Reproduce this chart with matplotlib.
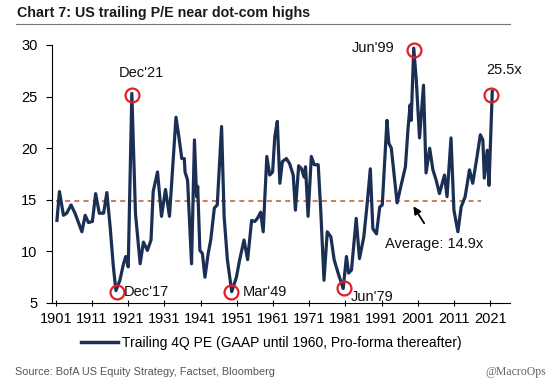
import matplotlib
matplotlib.use("Agg")
import matplotlib.pyplot as plt

FONT = "Liberation Sans"
fs = 10.5

# 数据
years = [1901.3, 1902.0, 1903.1, 1904.0, 1905.2, 1906.3, 1908.2, 1909.1, 1910.0, 1911.1,
         1912.0, 1913.0, 1914.2, 1915.1, 1916.0, 1916.9, 1917.6, 1918.7, 1919.7, 1920.3,
         1921.0, 1922.0, 1923.0, 1924.3, 1925.2, 1926.3, 1927.3, 1927.9, 1929.1, 1930.2,
         1931.3, 1932.4, 1934.2, 1935.0, 1935.8, 1936.5, 1936.7, 1937.4, 1938.5, 1939.3,
         1939.9, 1940.2, 1940.8, 1941.5, 1942.2, 1943.1, 1943.8, 1944.8, 1945.6, 1946.8,
         1947.5, 1948.4, 1949.6, 1950.9, 1951.8, 1953.0, 1954.0, 1955.1, 1956.0, 1956.7,
         1957.6, 1958.3, 1959.3, 1960.1, 1960.9, 1961.5, 1962.2, 1962.9, 1963.6, 1964.7,
         1965.6, 1966.6, 1967.2, 1968.1, 1968.9, 1969.6, 1970.0, 1970.7, 1971.6, 1972.4,
         1973.5, 1974.2, 1975.1, 1976.0, 1977.0, 1977.9, 1979.0, 1980.4, 1981.3, 1981.9,
         1982.7, 1984.0, 1984.9, 1986.1, 1987.0, 1987.9, 1988.6, 1989.6, 1990.5, 1991.2,
         1992.5, 1993.0, 1993.7, 1995.3, 1996.4, 1997.6, 1998.3, 1998.9, 1999.2, 1999.9,
         2000.6, 2001.5, 2002.6, 2003.3, 2004.3, 2005.2, 2006.1, 2007.0, 2008.4, 2009.1,
         2010.2, 2011.0, 2012.1, 2013.0, 2014.1, 2015.3, 2016.2, 2017.4, 2018.3, 2019.0,
         2019.4, 2020.2, 2020.7, 2021.6]
pe = [13.0, 15.8, 13.5, 13.7, 14.5, 13.7, 11.9, 13.5, 12.8, 12.9,
      15.6, 13.7, 13.7, 15.7, 12.4, 8.5, 6.2, 7.2, 8.8, 9.5,
      8.5, 25.3, 13.7, 8.8, 10.9, 10.1, 11.1, 15.8, 17.7, 13.4,
      16.0, 13.4, 23.0, 21.1, 19.0, 19.0, 17.7, 16.9, 8.8, 20.8,
      15.3, 16.3, 10.1, 9.8, 7.5, 9.8, 11.1, 14.2, 14.5, 22.1,
      13.4, 9.2, 6.1, 7.5, 9.2, 11.1, 9.2, 13.0, 12.9, 13.2,
      13.8, 11.9, 19.2, 17.4, 17.7, 21.1, 22.6, 16.6, 18.7, 19.0,
      18.5, 17.4, 14.0, 18.3, 18.0, 17.2, 18.2, 13.4, 19.2, 18.4,
      18.4, 14.0, 7.2, 11.9, 11.4, 9.2, 7.9, 6.4, 9.5, 7.9,
      8.2, 13.2, 9.3, 11.4, 14.5, 18.0, 12.2, 11.7, 14.3, 14.5,
      22.7, 20.5, 20.0, 14.7, 16.4, 18.2, 21.8, 24.2, 22.7, 29.7,
      26.6, 21.0, 26.1, 17.6, 20.0, 17.9, 16.9, 15.6, 17.4, 15.3,
      21.0, 14.0, 11.9, 14.3, 15.3, 17.9, 16.6, 19.2, 21.3, 20.8,
      17.1, 19.8, 16.4, 25.5]
average = 14.9
avg_span = [1901, 2018.5]
tick_years = list(range(1901, 2022, 10))

# 标注圈
circ_x = [1922.0, 1917.8, 1949.4, 1980.5, 1999.9, 2021.3]
circ_y = [25.2, 6.1, 6.1, 6.5, 29.5, 25.2]
labels = ["Dec'21", "Dec'17", "Mar'49", "Jun'79", "Jun'99", "25.5x"]

navy = "#1b2f55"

fig = plt.figure(figsize=(5.49, 3.84), dpi=100)
ax = fig.add_axes([51.5 / 549, 1 - 303 / 384, (510 - 51.5) / 549, (303 - 45) / 384])

ax.plot(avg_span, [average, average], ls=(0, (3, 2.5)), color="#c8643a", lw=1.2)
ax.plot(years, pe, color=navy, lw=2.3, label="Trailing 4Q PE (GAAP until 1960, Pro-forma thereafter)")
ax.plot(circ_x, circ_y, "o", ms=10, mfc="none", mec="#e0202a", mew=1.6, clip_on=False)

ax.set_xlim(1899.8, 2026.5)
ax.set_ylim(5, 30)
ax.set_xticks(tick_years)
ax.set_yticks([5, 10, 15, 20, 25, 30])
for s in ["top", "right"]:
    ax.spines[s].set_visible(False)
ax.spines["left"].set_linewidth(0.8)
ax.spines["bottom"].set_linewidth(0.8)
ax.tick_params(axis="y", direction="out", length=4, width=0.8, labelsize=fs, pad=6)
ax.tick_params(axis="x", direction="inout", length=5, width=0.8, labelsize=fs, pad=4)
for t in ax.get_xticklabels() + ax.get_yticklabels():
    t.set_family(FONT)

tk = dict(family=FONT, fontsize=fs, color="#111111", clip_on=False)
ax.text(1924.7, 27.3, labels[0], ha="center", va="center", **tk)
ax.text(1919.9, 6.1, labels[1], ha="left", va="center", **tk)
ax.text(1952.6, 6.1, labels[2], ha="left", va="center", **tk)
ax.text(1982.5, 5.6, labels[3], ha="left", va="center", **tk)
ax.text(1994.6, 29.7, labels[4], ha="right", va="center", **tk)
ax.text(2025.0, 27.6, labels[5], ha="center", va="center", **tk)

ax.annotate("", xy=(1999.4, 14.6), xytext=(2003.2, 12.5),
            arrowprops=dict(arrowstyle="-|>", color="black", lw=1.3, mutation_scale=11))
ax.text(1992.0, 10.7, "Average: 14.9x", ha="left", va="center", **tk)

leg = ax.legend(loc="center", bbox_to_anchor=(0.479, -0.155), frameon=False,
                handlelength=2.7, handletextpad=0.25, borderaxespad=0,
                prop=dict(family=FONT, size=10))
leg.get_lines()[0].set_linewidth(2.5)

# 标题和分隔线
fig.text(17 / 549, 1 - 13 / 384, "Chart 7: US trailing P/E near dot-com highs",
         family=FONT, fontsize=10.3, fontweight="bold", color="#1a1a1a", va="center")
fig.add_artist(plt.Line2D([16 / 549, 510 / 549], [1 - 23.5 / 384] * 2, color="#777777", lw=0.8))

fig.text(15 / 549, 1 - 372 / 384, "Source: BofA US Equity Strategy, Factset, Bloomberg",
         family=FONT, fontsize=7.8, color="#555555", va="center")
fig.text(546 / 549, 1 - 372 / 384, "@MacroOps", family="Liberation Serif",
         fontsize=8.5, color="#666666", va="center", ha="right")

fig.savefig("out.png", dpi=100)
